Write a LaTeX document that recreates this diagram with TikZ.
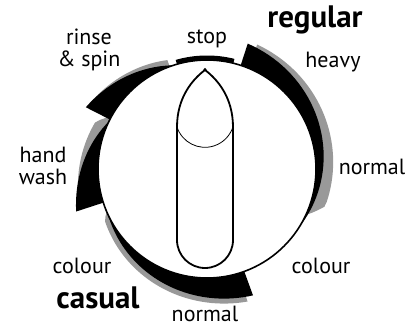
\documentclass[tikz,border=0pt]{standalone}
\usepackage{fontspec}
\setmainfont{PT Sans}
\usepackage{tikz}
\begin{document}
\begin{tikzpicture}[x=1pt,y=1pt,
    lbl/.style={anchor=base,inner sep=0pt,align=center,font=\fontsize{22}{22}\selectfont},
    big/.style={lbl,font=\fontsize{31}{31}\selectfont\bfseries},
    shade/.style={fill=black!40}]
            \useasboundingbox (-207,-157) rectangle (202,169); %枠
            \fill[shade] plot[domain=68:-25,samples=40] (\x:{109+min(17+0.12*\x,2*(\x+25))}) -- (-25:109) arc[start angle=-25,end angle=68,radius=109] -- cycle; %影 regular
            \fill[shade] plot[domain=110:150,samples=20] (\x:{109+6+0.45*(\x-108)}) -- (150:109) arc[start angle=150,end angle=110,radius=109] -- cycle; %影 rinse
            \fill[shade] plot[domain=151:192,samples=20] (\x:{109+min(13+0.3*(\x-160),2*(\x-151))}) -- (192:109) arc[start angle=192,end angle=151,radius=109] -- cycle; %影 hand wash
            \fill[shade] plot[domain=203:287,samples=40] (\x:{109+min(0.3*(\x-205)+5,1.5*(\x-203))}) -- (287:109) arc[start angle=287,end angle=203,radius=109] -- cycle; %影 casual
            \fill plot[domain=72:-30,samples=40] (\x:{109+7+0.22*\x}) -- (-30:109) arc[start angle=-30,end angle=72,radius=109] -- cycle; %regular
            \fill plot[domain=108:153,samples=20] (\x:{109+0.6*(\x-108)}) -- (153:109) arc[start angle=153,end angle=108,radius=109] -- cycle; %rinse
            \fill plot[domain=154:198,samples=20] (\x:{109+0.65*(\x-154)}) -- (198:109) arc[start angle=198,end angle=154,radius=109] -- cycle; %hand wash
            \fill plot[domain=205:290,samples=40] (\x:{109+0.3*(\x-205)}) -- (290:109) arc[start angle=290,end angle=205,radius=109] -- cycle; %casual
            \fill (76:109) arc[start angle=76,end angle=106,radius=109] -- (106:113.5) arc[start angle=106,end angle=76,radius=113.5] -- cycle; %stop
            \draw[line width=1.6pt,fill=white] (0,0) circle[radius=109]; %ダイヤル
            \draw[line width=1.8pt] (-2,99) .. controls (-14,90) and (-30,72) .. (-30,42) -- (-30,-71) arc[start angle=180,end angle=360,radius=28] -- (26,42) .. controls (26,72) and (10,90) .. (-2,99) -- cycle; %つまみ
            \draw[line width=0.8pt] (-30,42) arc[start angle=198,end angle=342,radius=29.4];
            \fill (-2,99.5) circle[radius=1.6];
            \node[lbl] (stop) at (0,125.5) {stop};
            \node[big] (regular) at (108,141) {regular};
            \node[lbl] (heavy) at (126,101) {heavy};
            \node[lbl] (rinse) at (-118,102) {rinse\\\& spin};
            \node[lbl] (hand) at (-164,-16) {hand\\wash};
            \node[lbl] (normalR) at (165,-6) {normal};
            \node[lbl] (colourL) at (-125,-104) {colour};
            \node[big] (casual) at (-109,-139) {casual};
            \node[lbl] (colourR) at (114,-104) {colour};
            \node[lbl] (normalB) at (-2,-152) {normal};
        \end{tikzpicture}
\end{document}
